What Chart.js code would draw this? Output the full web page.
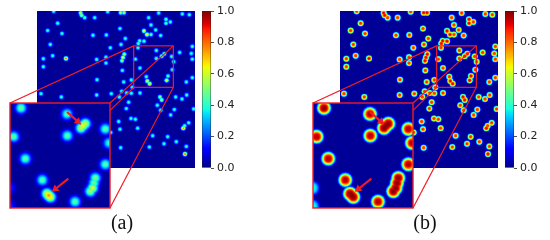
<!DOCTYPE html>
<html>
<head>
<meta charset="utf-8">
<script src="https://cdn.jsdelivr.net/npm/chart.js@4"></script>
<style>
  html, body { margin: 0; padding: 0; background: #fff; }
  #page { position: relative; width: 550px; height: 240px; overflow: hidden; }
  canvas { position: absolute; filter: blur(0.35px); }
  .cap { position: absolute; top: 211px; width: 60px; text-align: center; color: #111;
         font: 20px "Liberation Serif", serif; }
</style>
</head>
<body>
<div id="page">
  <canvas id="mainA" width="550" height="240" style="left:0;top:0"></canvas>
  <canvas id="mainB" width="550" height="240" style="left:0;top:0"></canvas>
  <canvas id="insetA" width="102" height="107" style="left:9px;top:102px"></canvas>
  <canvas id="insetB" width="102" height="107" style="left:312px;top:102px"></canvas>
  <canvas id="barA" width="60" height="180" style="left:200px;top:0"></canvas>
  <canvas id="barB" width="60" height="180" style="left:503px;top:0"></canvas>
  <div class="cap" style="left:92px">(a)</div>
  <div class="cap" style="left:395px">(b)</div>
</div>
<script>
// spots of the full view, same place in both panels
const spotX = [160,241,244,253,283,322,361,371,445,475,546,567,497,497,510,172,452,142,185,278,318,359,466,431,440,452,481,375,418,414,431,150,330,362,413,576,468,484,492,538,573,157,197,129,289,317,372,368,365,405,468,514,576,520,317,129,366,419,438,441,448,503,499,516,558,576,290,370,393,396,364,122,183,289,333,357,379,393,419,479,484,526,545,559,385,471,522,481,378,580,511,355,392,405,359,412,565,549,553,331,457,502,491,528,447,558,361,554];
const spotY = [33,38,45,52,52,34,37,37,52,38,41,43,57,69,65,69,74,91,100,105,104,85,89,92,103,103,106,115,122,130,123,133,143,133,143,139,151,168,161,157,160,167,175,176,178,171,162,172,182,177,175,169,177,185,189,200,211,204,230,243,251,228,241,209,246,233,239,246,240,262,274,281,291,285,281,291,279,280,279,291,300,291,297,285,307,316,329,331,326,327,345,365,356,358,388,385,369,385,378,398,408,411,432,426,442,440,444,463];
const spotPeakA = [.47,.62,.62,.5,.47,.47,.58,.58,.47,.47,.47,.47,.5,.5,.47,.47,.47,.47,.47,.47,.47,.47,.47,.68,.72,.5,.47,.47,.5,.5,.5,.47,.47,.47,.47,.47,.47,.58,.58,.47,.47,.47,.85,.47,.47,.47,.58,.68,.58,.47,.47,.47,.47,.47,.47,.47,.47,.47,.47,.68,.72,.5,.68,.47,.47,.47,.47,.47,.47,.47,.47,.47,.47,.47,.47,.47,.47,.47,.47,.58,.62,.47,.47,.47,.47,.47,.47,.47,.47,.47,.47,.47,.47,.47,.47,.47,.47,.8,.5,.47,.47,.47,.47,.47,.47,.47,.47,.85];
const spotPeakB = [.9,.95,.95,.9,.9,.9,.95,.95,.9,.9,.9,.9,.95,.95,.9,.9,.9,.9,.9,.9,.9,.9,.9,.95,.95,.9,.9,.9,.95,.95,.95,.9,.9,.9,.9,.9,.9,.95,.95,.9,.9,.9,.95,.9,.9,.9,.95,.95,.95,.9,.9,.9,.9,.9,.9,.9,.9,.9,.9,.95,.95,.95,.95,.9,.9,.9,.9,.9,.9,.9,.9,.9,.9,.9,.9,.9,.9,.9,.9,.95,.95,.9,.9,.9,.9,.9,.9,.9,.9,.9,.9,.9,.9,.9,.9,.9,.9,.95,.9,.9,.9,.9,.9,.9,.9,.9,.9,.95];

// spots of the zoomed view
const insetX = [62,200,242,248,255,315,201,40,326,75,315,126,285,281,277,270,140,145,150,224,27,27];
const insetY = [25,43,85,78,72,88,108,111,130,177,194,241,235,250,265,275,282,287,292,306,265,320];
const insetPeakA = [.5,.48,.6,.66,.62,.48,.48,.48,.44,.48,.48,.48,.52,.5,.62,.56,.66,.78,.7,.48,.2,.2];
const insetPeakB = [1,.97,1,1,1,.97,.97,.97,.97,.97,.97,.97,1,1,1,1,1,1,1,.97,.4,.4];

// red arrows on the zoomed view
const arrowTailX = [200,204];
const arrowTailY = [37,237];
const arrowTipX = [233,165];
const arrowTipY = [66,268];

// zoom window on the full view
const windowX = [400,519];
const windowY = [137,262];

const tickValues = [0, 0.2, 0.4, 0.6, 0.8, 1];
const levels = [0.99,0.95,0.91,0.87,0.83,0.79,0.75,0.71,0.67,0.63,0.59,0.55,0.51,0.47,0.43,0.39,0.35,0.31,0.27,0.23,0.19,0.15,0.11,0.07,0.03];

const RED = '#ee1c25';

// matplotlib jet
function jet(v) {
  const ramp = (pts) => {
    for (let i = 1; i < pts.length; i++) {
      if (v <= pts[i][0]) {
        const t = (v - pts[i - 1][0]) / (pts[i][0] - pts[i - 1][0]);
        return pts[i - 1][1] + t * (pts[i][1] - pts[i - 1][1]);
      }
    }
    return pts[pts.length - 1][1];
  };
  const r = ramp([[0, 0], [0.35, 0], [0.66, 1], [0.89, 1], [1, 0.5]]);
  const g = ramp([[0, 0], [0.125, 0], [0.375, 1], [0.64, 1], [0.91, 0], [1, 0]]);
  const b = ramp([[0, 0.5], [0.11, 1], [0.34, 1], [0.65, 0], [1, 0]]);
  return `rgb(${Math.round(r * 255)},${Math.round(g * 255)},${Math.round(b * 255)})`;
}

// one scatter dataset per colour level, the union of circles makes the contours
// chart.js paints dataset 0 last, so the highest level goes first
// power 0.5 is a plain gaussian, lower makes the core flatter
function levelDatasets(xs, ys, peaks, size, power) {
  return levels.map((level) => {
    const data = [];
    const radius = [];
    xs.forEach((x, i) => {
      if (peaks[i] > level) {
        data.push({ x, y: ys[i] });
        radius.push(size * Math.pow(Math.log(peaks[i] / level) / Math.log(peaks[i] / 0.03), power));
      }
    });
    return { data, pointRadius: radius, pointBorderWidth: 0, pointBackgroundColor: jet(level), showLine: false };
  });
}

function hiddenScales(xMin, xMax, yMin, yMax) {
  return {
    x: { type: 'linear', display: false, min: xMin, max: xMax },
    y: { type: 'linear', display: false, min: yMin, max: yMax, reverse: true }
  };
}

const fillPlot = {
  id: 'fillPlot',
  beforeDatasetsDraw(chart) {
    const a = chart.chartArea;
    chart.ctx.fillStyle = jet(0.02);
    chart.ctx.fillRect(a.left, a.top, a.right - a.left, a.bottom - a.top);
  }
};

function drawMain(id, dx, peaks, size, power) {
  // window box and the four lines down to the inset corners
  const connectors = {
    id: 'connectors',
    afterDatasetsDraw(chart) {
      const { ctx, scales } = chart;
      const l = scales.x.getPixelForValue(windowX[0]);
      const r = scales.x.getPixelForValue(windowX[1]);
      const t = scales.y.getPixelForValue(windowY[0]);
      const b = scales.y.getPixelForValue(windowY[1]);
      const il = 10 + dx, ir = 110 + dx, it = 103, ib = 208;
      ctx.strokeStyle = RED;
      ctx.lineWidth = 1.2;
      ctx.strokeRect(l, t, r - l, b - t);
      [[il, it, l, t], [ir, it, r, t], [il, ib, l, b], [ir, ib, r, b]].forEach((c) => {
        ctx.beginPath();
        ctx.moveTo(c[0], c[1]);
        ctx.lineTo(c[2], c[3]);
        ctx.stroke();
      });
    }
  };
  new Chart(document.getElementById(id), {
    type: 'scatter',
    data: { datasets: levelDatasets(spotX, spotY, peaks, size, power) },
    options: {
      responsive: false,
      animation: false,
      events: [],
      layout: { autoPadding: false, padding: { left: 37 + dx, top: 11, right: 550 - 195 - dx, bottom: 72 } },
      plugins: { legend: { display: false }, tooltip: { enabled: false } },
      scales: hiddenScales(110, 584, 32, 505)
    },
    plugins: [fillPlot, connectors]
  });
}

function drawInset(id, peaks, size, power) {
  const frame = {
    id: 'frame',
    afterDraw(chart) {
      const a = chart.chartArea;
      chart.ctx.strokeStyle = RED;
      chart.ctx.lineWidth = 1.4;
      chart.ctx.strokeRect(a.left, a.top, a.right - a.left, a.bottom - a.top);
    }
  };
  const arrows = arrowTailX.map((x, i) => {
    const angle = Math.atan2(arrowTipX[i] - x, arrowTailY[i] - arrowTipY[i]) * 180 / Math.PI;
    return {
      data: [{ x, y: arrowTailY[i] }, { x: arrowTipX[i], y: arrowTipY[i] }],
      showLine: true,
      borderColor: RED,
      borderWidth: 2.2,
      pointStyle: 'triangle',
      pointRadius: [0, 4.5],
      pointRotation: angle,
      pointBorderWidth: 0,
      pointBackgroundColor: RED
    };
  });
  new Chart(document.getElementById(id), {
    type: 'scatter',
    data: { datasets: arrows.concat(levelDatasets(insetX, insetY, peaks, size, power)) },
    options: {
      responsive: false,
      animation: false,
      events: [],
      layout: { autoPadding: false, padding: 1 },
      plugins: { legend: { display: false }, tooltip: { enabled: false } },
      scales: hiddenScales(29, 329, 10, 325)
    },
    plugins: [fillPlot, frame]
  });
}

function drawColorbar(id) {
  new Chart(document.getElementById(id), {
    type: 'bar',
    data: {
      labels: ['value'],
      datasets: [{
        data: [[0, 1]],
        barPercentage: 1,
        categoryPercentage: 1,
        borderColor: '#222',
        borderWidth: 0.7,
        borderSkipped: false,
        backgroundColor(ctx) {
          const a = ctx.chart.chartArea;
          if (!a) return jet(0.5);
          const g = ctx.chart.ctx.createLinearGradient(0, a.bottom, 0, a.top);
          for (let i = 0; i <= 64; i++) g.addColorStop(i / 64, jet(i / 64));
          return g;
        }
      }]
    },
    options: {
      responsive: false,
      animation: false,
      events: [],
      layout: { autoPadding: false, padding: { left: 2, top: 11, right: 0, bottom: 12 } },
      plugins: { legend: { display: false }, tooltip: { enabled: false } },
      scales: {
        x: { display: false },
        y: {
          position: 'right',
          min: 0,
          max: 1,
          afterFit(s) { s.width = 49; },
          afterBuildTicks(s) { s.ticks = tickValues.map((value) => ({ value })); },
          border: { display: false },
          grid: { drawOnChartArea: false, tickLength: 3, color: '#222', tickWidth: 0.8 },
          ticks: {
            color: '#222',
            padding: 3,
            font: { family: 'DejaVu Sans', size: 11 },
            callback: (v) => v.toFixed(1)
          }
        }
      }
    }
  });
}

drawMain('mainA', 0, spotPeakA, 3.8, 0.5);
drawMain('mainB', 303, spotPeakB, 4.1, 0.32);
drawInset('insetA', insetPeakA, 9.5, 0.5);
drawInset('insetB', insetPeakB, 9.2, 0.28);
drawColorbar('barA');
drawColorbar('barB');
</script>
</body>
</html>
